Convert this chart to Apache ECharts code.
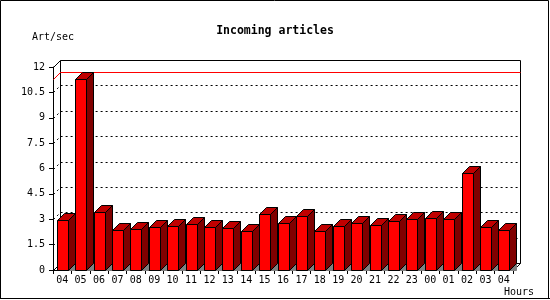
<!DOCTYPE html>
<html><head><meta charset="utf-8">
<script src="https://cdn.jsdelivr.net/npm/echarts@6/dist/echarts.min.js"></script>
<style>html,body{margin:0;padding:0;background:#fff}#c{width:550px;height:300px}</style>
</head><body><div id="c"></div>
<script>
const hours = ['04','05','06','07','08','09','10','11','12','13','14','15','16','17','18','19','20','21','22','23','00','01','02','03','04'];
const artPerSec = [2.94,11.27,3.41,2.35,2.40,2.52,2.58,2.70,2.52,2.46,2.29,3.29,2.76,3.17,2.29,2.58,2.76,2.64,2.88,3.00,3.06,3.00,5.71,2.52,2.35];
const yTicks = [0,1.5,3,4.5,6,7.5,9,10.5,12];
const titleText = 'Incoming articles';
const yName = 'Art/sec';
const xName = 'Hours';

const D = 7;
const FONT = "'DejaVu Sans Mono', 'Liberation Mono', monospace";
const maxVal = Math.max.apply(null, artPerSec);

function px(v){ return Math.round(v) + 0.5; }

function renderWall(params, api){
  const cs = params.coordSys;
  const children = [];
  if (params.dataIndex === 0) {
    const x0 = px(cs.x), y0 = px(cs.y), x1 = px(cs.x + cs.width), y1 = px(cs.y + cs.height);
    children.push({type:'rect', shape:{x:x0+D, y:y0-D, width:x1-x0, height:y1-y0}, style:{fill:'#fff', stroke:'#000', lineWidth:1}});
    children.push({type:'line', shape:{x1:x0, y1:y0, x2:x0+D, y2:y0-D}, style:{stroke:'#000', lineWidth:1}});
    children.push({type:'line', shape:{x1:x0, y1:y1, x2:x0+D, y2:y1-D}, style:{stroke:'#000', lineWidth:1}});
    children.push({type:'line', shape:{x1:x1, y1:y1, x2:x1+D, y2:y1-D}, style:{stroke:'#000', lineWidth:1}});
    // max line (red), drawn on back wall with a diagonal to the front axis
    const ym = px(api.coord([0, maxVal])[1]);
    children.push({type:'polyline', shape:{points:[[x0, ym],[x0+D, ym-D],[x1+D, ym-D]]}, style:{stroke:'#ff0000', lineWidth:1, fill:null}});
  }
  const v = api.value(0);
  if (v > 0 && v < 12) {
    const y = px(api.coord([0, v])[1]);
    const x0 = px(cs.x), x1 = px(cs.x + cs.width);
    children.push({type:'polyline', shape:{points:[[x0, y],[x0+D, y-D],[x1+D, y-D]]}, style:{stroke:'#000', lineWidth:1, lineDash:[2,3], fill:null}});
  }
  return {type:'group', children: children};
}

function renderBar(params, api){
  const idx = api.value(0), v = api.value(1);
  const top = api.coord([idx, v]);
  const base = api.coord([idx, 0]);
  const band = api.size([1, 0])[0];
  const bw = Math.round(band * 0.6);
  const xl = px(top[0] - bw / 2), xr = xl + bw;
  const yt = px(top[1]), yb = px(base[1]);
  const st = {stroke:'#000', lineWidth:1};
  return {type:'group', children:[
    {type:'polygon', shape:{points:[[xr,yb],[xr+D,yb-D],[xr+D,yb]]}, style:{fill:'#808080', stroke:'#808080', lineWidth:1}},
    {type:'polygon', shape:{points:[[xr,yt],[xr+D,yt-D],[xr+D,yb-D],[xr,yb]]}, style:Object.assign({fill:'#800000'}, st)},
    {type:'polygon', shape:{points:[[xl,yt],[xl+D,yt-D],[xr+D,yt-D],[xr,yt]]}, style:Object.assign({fill:'#c00000'}, st)},
    {type:'rect', shape:{x:xl, y:yt, width:bw, height:yb-yt}, style:Object.assign({fill:'#ff0000'}, st)}
  ]};
}

const chart = echarts.init(document.getElementById('c'), null, {renderer:'canvas'});
chart.setOption({
  backgroundColor:'#fff',
  animation:false,
  title:{text:titleText, left:'center', top:20, textStyle:{fontFamily:FONT, fontWeight:'bold', fontSize:11.5, color:'#000'}},
  grid:{left:53, top:67, width:460, height:203},
  xAxis:{type:'category', data:hours, name:xName, nameLocation:'end', nameGap:21,
    nameTextStyle:{fontFamily:FONT, fontSize:10, color:'#000', align:'right', verticalAlign:'top', padding:[17,0,0,0]},
    axisLine:{lineStyle:{color:'#000', width:1}}, axisTick:{show:true, length:4, lineStyle:{color:'#000'}},
    axisLabel:{interval:0, margin:5, fontFamily:FONT, fontSize:10, color:'#000'}, splitLine:{show:false}},
  yAxis:{type:'value', min:0, max:12, interval:1.5, name:yName, nameLocation:'end', nameGap:30,
    nameTextStyle:{fontFamily:FONT, fontSize:10, color:'#000', align:'center', verticalAlign:'middle'},
    axisLine:{show:true, lineStyle:{color:'#000', width:1}}, axisTick:{show:true, length:4, lineStyle:{color:'#000'}},
    axisLabel:{margin:8, fontFamily:FONT, fontSize:10, color:'#000'}, splitLine:{show:false}},
  series:[
    {type:'custom', name:'wall', z:1, clip:false, silent:true, renderItem:renderWall, data:yTicks.map(t=>[t]), encode:{y:0}},
    {type:'custom', name:'Incoming articles', z:2, clip:false, renderItem:renderBar, data:artPerSec.map((v,i)=>[i,v]), encode:{x:0, y:1}}
  ],
  graphic:[
    {type:'rect', z:100, silent:true, shape:{x:0.5, y:0.5, width:548, height:298}, style:{fill:null, stroke:'#000', lineWidth:1}},
    {type:'line', z:100, silent:true, shape:{x1:0, y1:298.5, x2:550, y2:298.5}, style:{stroke:'#000', lineWidth:1}}
  ]
});
</script></body></html>
